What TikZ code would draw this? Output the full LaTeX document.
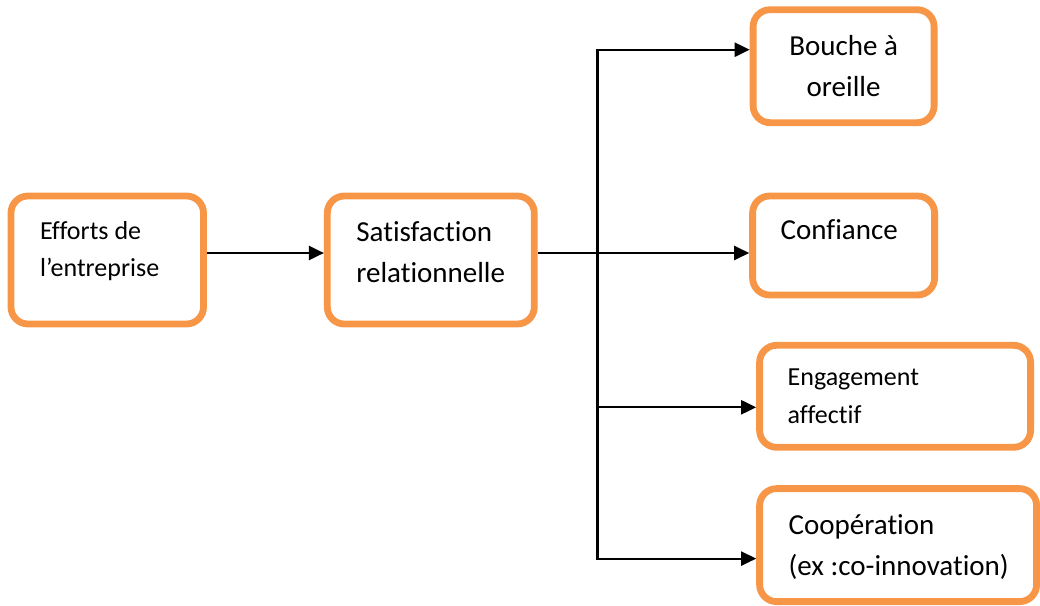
\documentclass[tikz,border=0pt]{standalone}
\usepackage{fontspec}
\setmainfont{Carlito}[Ligatures=NoCommon]
\usepackage{tikz}
\usetikzlibrary{arrows.meta, positioning}
\definecolor{boxorange}{HTML}{F79646}

\begin{document}
\begin{tikzpicture}[x=1pt, y=-1pt,
		box/.style={draw=boxorange, line width=6.8pt, rounded corners=17pt, inner sep=0pt, outer sep=3.4pt},
		bigtxt/.style={font=\fontsize{29}{41}\selectfont, inner sep=0pt, align=left},
		smalltxt/.style={font=\fontsize{26}{37.5}\selectfont, inner sep=0pt, align=left},
		arr/.style={-{Triangle[length=15pt, width=14pt]}, line width=2.2pt}]
		\useasboundingbox (0,0) rectangle (1040,605);
		
		\node[box, minimum width=192.5pt, minimum height=128pt]                       (efforts) at (107.25,260) {};
		\node[box, minimum width=207pt, minimum height=128pt, right=117pt of efforts]  (satisf) {};
		\node[box, minimum width=182pt, minimum height=99pt, right=211.5pt of satisf.north east, anchor=north west] (conf) {};
		\node[box, minimum width=181pt, minimum height=113pt, above=66.5pt of conf]     (bouche) {};
		\node[box, minimum width=271pt, minimum height=102pt, below=43.5pt of conf.south west, anchor=north west, xshift=7pt] (engag) {};
		\node[box, minimum width=277pt, minimum height=113pt, below=34.5pt of engag.south west, anchor=north west] (coop) {};
		
		\node[smalltxt, anchor=base west] (efforts-txt) at ([shift={(32.25pt,-84.25pt)}]efforts.north west) {Efforts de\\l’entreprise};
		\node[bigtxt, anchor=base west]   (satisf-txt)  at ([shift={(32.25pt,-90.25pt)}]satisf.north west) {Satisfaction\\relationnelle};
		\node[bigtxt, anchor=base, align=center] (bouche-txt) at ([yshift=-90.25pt]bouche.north) {Bouche à\\oreille};
		\node[bigtxt, anchor=base west]   (conf-txt)    at ([shift={(31.25pt,-47.25pt)}]conf.north west) {Confiance};
		\node[smalltxt, anchor=base west] (engag-txt)   at ([shift={(31.25pt,-81.25pt)}]engag.north west) {Engagement\\affectif};
		\node[bigtxt, anchor=base west]   (coop-txt)    at ([shift={(32.25pt,-90.25pt)}]coop.north west) {Coopération\\(ex :co-innovation)};
		
		\coordinate (split)    at ([shift={(59.75pt,7pt)}]satisf.east);
		\coordinate (toBouche) at ([yshift=16.5pt]bouche.west);
		\coordinate (toEngag)  at ([yshift=-11pt]engag.west);
		\coordinate (toCoop)   at ([yshift=-13.5pt]coop.west);
		
		\draw[arr] ([yshift=7pt]efforts.east) -- ([yshift=7pt]satisf.west);
		\draw[line width=1.4pt] ([yshift=7pt]satisf.east) -- (split);
		\draw[arr] (split) |- (toBouche);
		\draw[arr] (split) -- (split -| conf.west);
		\draw[arr] (split |- toEngag) -- (toEngag);
		\draw[arr] (split) |- (toCoop);
	\end{tikzpicture}
\end{document}
